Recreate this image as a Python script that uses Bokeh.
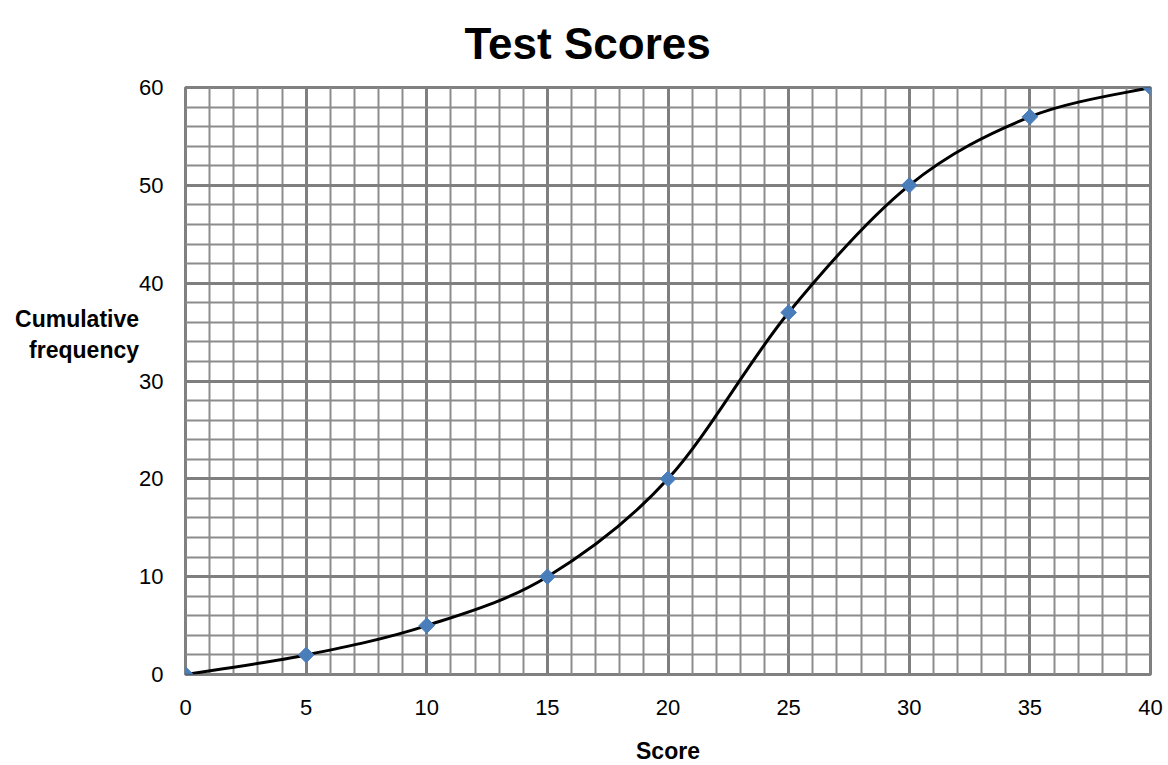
import math
from bokeh.plotting import figure
from bokeh.models import SingleIntervalTicker, ColumnDataSource, Range1d
from bokeh.embed import file_html
from bokeh.resources import INLINE

scores = [0, 5, 10, 15, 20, 25, 30, 35, 40]
cum_freq = [0, 2, 5, 10, 20, 37, 50, 57, 60]
x_ticks = [0, 5, 10, 15, 20, 25, 30, 35, 40]
y_ticks = [0, 10, 20, 30, 40, 50, 60]
title_text = "Test Scores"
x_label = "Score"
y_label = "Cumulative\nfrequency"

FONT = "Liberation Sans"

p = figure(frame_width=965, frame_height=587, min_border_left=185, min_border_top=87,
           min_border_right=18, min_border_bottom=88,
           x_range=Range1d(0, 40), y_range=Range1d(0, 60),
           output_backend="svg", toolbar_location=None)

p.title.text = title_text
p.title.text_font = FONT
p.title.text_font_size = "44px"
p.title.text_font_style = "bold"
p.title.text_color = "#000000"
p.title.align = "left"
p.title.vertical_align = "top"
p.title.offset = 279
p.title.standoff = 35

p.outline_line_color = "#808080"
p.outline_line_width = 3

p.xaxis.ticker = SingleIntervalTicker(interval=5, num_minor_ticks=5)
p.yaxis.ticker = SingleIntervalTicker(interval=10, num_minor_ticks=5)
for ax in (p.xaxis, p.yaxis):
    ax.axis_line_color = None
    ax.major_tick_line_color = None
    ax.minor_tick_line_color = None
    ax.major_tick_out = 0
    ax.minor_tick_out = 0
    ax.major_label_text_font = FONT
    ax.major_label_text_font_size = "22px"
    ax.major_label_text_color = "#000000"
    ax.axis_label_text_font = FONT
    ax.axis_label_text_font_size = "23px"
    ax.axis_label_text_font_style = "bold"
    ax.axis_label_text_color = "#000000"
p.yaxis.major_label_standoff = 22
p.xaxis.major_label_standoff = 25

p.xaxis.axis_label = x_label
p.xaxis.axis_label_standoff = 20
p.yaxis.axis_label = y_label + "\n \n \n "
p.yaxis.axis_label_orientation = "horizontal"
p.yaxis.axis_label_standoff = -3

for g in (p.xgrid, p.ygrid):
    g.grid_line_color = "#7f7f7f"
    g.grid_line_width = 3
    g.grid_line_alpha = 1
    g.minor_grid_line_color = "#8c8c8c"
    g.minor_grid_line_width = 2

# smooth curve (Excel-style) through data points via bezier segments
n = len(scores)
x0s, y0s, x1s, y1s, cx0s, cy0s, cx1s, cy1s = [], [], [], [], [], [], [], []
for i in range(n - 1):
    pm = (scores[max(i - 1, 0)], cum_freq[max(i - 1, 0)])
    pi = (scores[i], cum_freq[i])
    pn = (scores[i + 1], cum_freq[i + 1])
    pnn = (scores[min(i + 2, n - 1)], cum_freq[min(i + 2, n - 1)])
    x0s.append(pi[0]); y0s.append(pi[1])
    x1s.append(pn[0]); y1s.append(pn[1])
    cx0s.append(pi[0] + (pn[0] - pm[0]) / 6.0)
    cy0s.append(pi[1] + (pn[1] - pm[1]) / 6.0)
    cx1s.append(pn[0] - (pnn[0] - pi[0]) / 6.0)
    cy1s.append(pn[1] - (pnn[1] - pi[1]) / 6.0)

bsrc = ColumnDataSource(dict(x0=x0s, y0=y0s, x1=x1s, y1=y1s,
                             cx0=cx0s, cy0=cy0s, cx1=cx1s, cy1=cy1s))
p.bezier(x0="x0", y0="y0", x1="x1", y1="y1", cx0="cx0", cy0="cy0",
         cx1="cx1", cy1="cy1", source=bsrc, line_color="black", line_width=3)

p.scatter(scores, cum_freq, marker="square", angle=math.pi / 4, size=11,
          fill_color="#4A7EBB", line_color="#4A7EBB", line_width=1)

open("out.html", "w").write(file_html(p, INLINE))
